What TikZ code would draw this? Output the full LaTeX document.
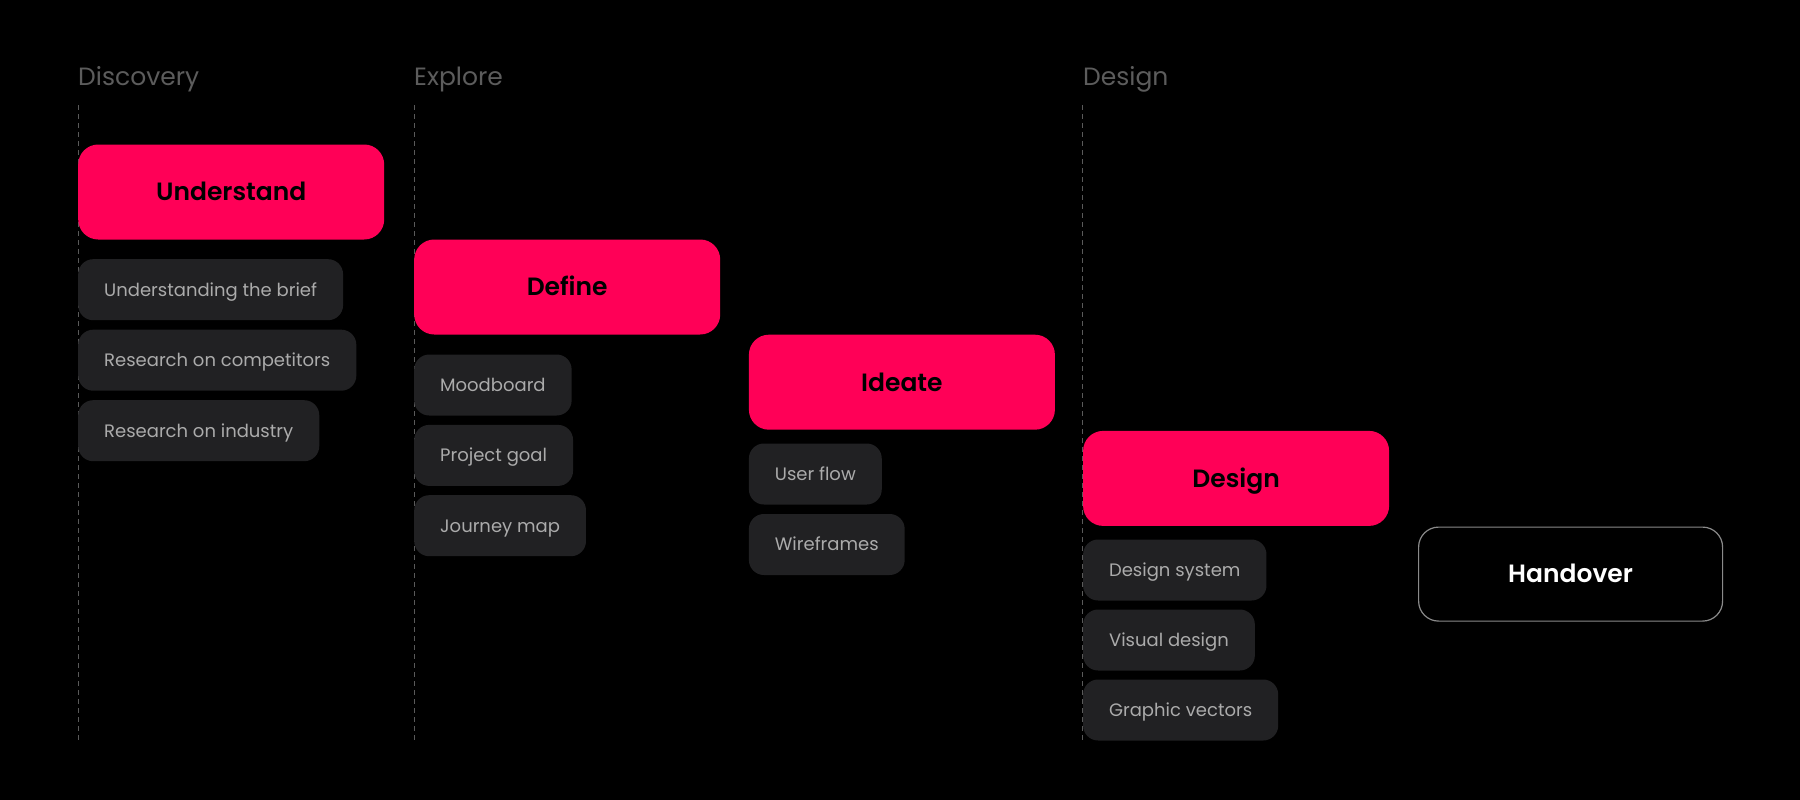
\documentclass[tikz,border=0pt]{standalone}
\usepackage{fontspec}
\setmainfont{Poppins}
\newfontfamily\semib{Poppins SemiBold}
\definecolor{pinkc}{HTML}{FF0057}
\definecolor{subc}{HTML}{212123}
\definecolor{subtext}{HTML}{ABABAB}
\definecolor{headc}{HTML}{5C5C5C}
\definecolor{guidec}{HTML}{5A5A5A}
\definecolor{handc}{HTML}{8A8A8A}
\begin{document}
\begin{tikzpicture}[x=1pt,y=-1pt,
  mainbox/.style={anchor=north west, fill=pinkc, rounded corners=20pt, minimum width=306pt, minimum height=95pt, inner sep=0pt, text height=17.6pt, text depth=0pt, font=\semib\fontsize{25}{30}\selectfont, text=black},
  subbox/.style={anchor=north west, fill=subc, rounded corners=15pt, minimum height=61pt, inner xsep=26pt, inner ysep=0pt, text height=12.8pt, text depth=0pt, font=\fontsize{18}{22}\selectfont, text=subtext},
  header/.style={anchor=base west, inner sep=0pt, text=headc, font=\fontsize{25}{30}\selectfont},
  guide/.style={draw=guidec, line width=1pt, dash pattern=on 5pt off 4pt}]
\fill[black] (0,0) rectangle (1800,800);
\useasboundingbox (0,0) rectangle (1800,800);
% guide lines
\coordinate (g1a) at (78.3,105); \coordinate (g1b) at (78.3,740);
\coordinate (g2a) at (414.3,105); \coordinate (g2b) at (414.3,740);
\coordinate (g3a) at (1082.9,105); \coordinate (g3b) at (1082.9,740);
\draw[guide] (g1a) -- (g1b);
\draw[guide] (g2a) -- (g2b);
\draw[guide] (g3a) -- (g3b);
% headers
\node[header] (hdisc) at (78,85) {Discovery};
\node[header] (hexpl) at (414,85) {Explore};
\node[header] (hdes) at (1083,85) {Design};
% column 1
\node[mainbox] (understand) at (78,144.3) {Understand};
\node[subbox] (u1) at (78,259) {Understanding the brief};
\node[subbox] (u2) at (78,329.5) {Research on competitors};
\node[subbox] (u3) at (78,400) {Research on industry};
% column 2
\node[mainbox] (define) at (414,239.3) {Define};
\node[subbox] (d1) at (414,354.3) {Moodboard};
\node[subbox] (d2) at (414,424.7) {Project goal};
\node[subbox] (d3) at (414,495) {Journey map};
% column 3
\node[mainbox] (ideate) at (748.7,334.5) {Ideate};
\node[subbox] (i1) at (748.7,443.3) {User flow};
\node[subbox] (i2) at (748.7,513.8) {Wireframes};
% column 4
\node[mainbox] (design) at (1082.9,430.7) {Design};
\node[subbox] (s1) at (1082.9,539.3) {Design system};
\node[subbox] (s2) at (1082.9,609.3) {Visual design};
\node[subbox] (s3) at (1082.9,679.3) {Graphic vectors};
% handover
\node[mainbox, fill=black, draw=handc, line width=1.2pt, text=white, minimum width=304pt, minimum height=94pt] (handover) at (1418,526.5) {Handover};
\end{tikzpicture}
\end{document}
